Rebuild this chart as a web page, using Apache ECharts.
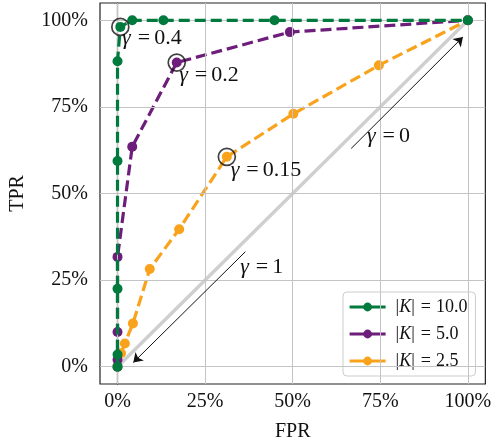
<!DOCTYPE html>
<html><head><meta charset="utf-8">
<script src="https://cdn.jsdelivr.net/npm/echarts@6/dist/echarts.min.js"></script>
<style>html,body{margin:0;padding:0;background:#fff}#c{width:494px;height:448px}</style>
</head><body><div id="c"></div>
<script>
// ---- data ----
const seriesNames = ['|K| = 10.0', '|K| = 5.0', '|K| = 2.5'];
const fprK10 = [0, 0, 0, 0, 0, 0.8, 4.2, 13.1, 44.8, 100];
const tprK10 = [0, 3.5, 22.5, 59.4, 88.2, 98.1, 100, 100, 100, 100];
const fprK5 = [0, 0, 0, 0, 4.2, 16.9, 49.2, 100];
const tprK5 = [0, 2, 10, 31.7, 63.5, 87.8, 96.6, 100];
const fprK25 = [0, 1, 2.1, 4.4, 9.2, 17.6, 31.2, 50.2, 74.6, 100];
const tprK25 = [0, 3.9, 6.7, 12.5, 28.2, 39.7, 60.6, 73, 87, 100];
const circledFPR = [0.8, 16.9, 31.2];
const circledTPR = [98.1, 87.8, 60.6];
const gammaLabels = ['0.4', '0.2', '0.15', '1', '0'];
const gammaLabelX = [1.3, 17.6, 32.3, 35, 71.2];
const gammaLabelY = [94.8, 84.1, 56.7, 28.8, 66.5];
const arrowFrom = [[36.5, 33.2], [66.7, 63]];
const arrowTo = [[4.5, 1.2], [98.6, 95.2]];
const diagonal = [[0, 0], [100, 100]];
const tickValues = [0, 25, 50, 75, 100];

const colors = ['#007a3d', '#6d1d7a', '#f9a31c'];
const FONT = 'Liberation Serif';
const TXT = '#111111';
const zip = (a, b) => a.map((v, i) => [v, b[i]]);

const gridLines = [];
tickValues.forEach(v => { gridLines.push({ xAxis: v }); gridLines.push({ yAxis: v }); });

function rocSeries(name, fpr, tpr, color, z) {
  return {
    name, type: 'line', data: zip(fpr, tpr), z,
    symbol: 'circle', symbolSize: 10, showSymbol: true,
    itemStyle: { color },
    lineStyle: { color, width: 3.2, type: [11, 5] },
    clip: false, animation: false
  };
}

const chart = echarts.init(document.getElementById('c'));
chart.setOption({
  animation: false,
  grid: { left: 96, right: 7, top: 3, bottom: 64, show: true, borderColor: '#222', borderWidth: 1.2, backgroundColor: 'transparent' },
  xAxis: {
    type: 'value', min: -5, max: 105,
    name: 'FPR', nameLocation: 'middle', nameGap: 38,
    nameTextStyle: { fontFamily: FONT, fontSize: 20, color: TXT },
    axisLine: { show: true, lineStyle: { color: '#222', width: 1.2 } },
    axisTick: { show: true, inside: false, length: 5, customValues: tickValues, lineStyle: { color: '#222' } },
    axisLabel: { customValues: tickValues, formatter: '{value}%', fontFamily: FONT, fontSize: 20, color: TXT, margin: 8 },
    splitLine: { show: false }
  },
  yAxis: {
    type: 'value', min: -5, max: 105,
    name: 'TPR', nameLocation: 'middle', nameGap: 72,
    nameTextStyle: { fontFamily: FONT, fontSize: 20, color: TXT },
    axisLine: { show: true, lineStyle: { color: '#222', width: 1.2 } },
    axisTick: { show: true, inside: false, length: 5, customValues: tickValues, lineStyle: { color: '#222' } },
    axisLabel: { customValues: tickValues, formatter: '{value}%', fontFamily: FONT, fontSize: 20, color: TXT, margin: 12 },
    splitLine: { show: false }
  },
  legend: {
    orient: 'vertical', left: 343, top: 292,
    data: seriesNames,
    itemWidth: 36, itemHeight: 11, itemGap: 9,
    padding: [6, 8, 6, 5],
    backgroundColor: 'rgba(255,255,255,0.85)',
    borderColor: '#cccccc', borderWidth: 1, borderRadius: 4,
    lineStyle: { type: 'solid', width: 3.2 },
    formatter: n => {
      const v = n.split('= ')[1];
      return '{a||}{k|K}{t||}{e|=}{t|' + v + '}';
    },
    textStyle: {
      fontFamily: FONT, fontSize: 18, color: TXT,
      rich: {
        a: { fontFamily: FONT, fontSize: 18, color: TXT, padding: [0, 0, 0, 5] },
        k: { fontFamily: FONT, fontSize: 18, fontStyle: 'italic', color: TXT },
        t: { fontFamily: FONT, fontSize: 18, color: TXT },
        e: { fontFamily: FONT, fontSize: 18, color: TXT, padding: [0, 5, 0, 6] }
      }
    }
  },
  series: [
    {
      type: 'line', data: diagonal, symbol: 'none', z: 1, silent: true,
      lineStyle: { color: '#cfcfcf', width: 3.4 },
      markLine: {
        silent: true, symbol: 'none', label: { show: false },
        lineStyle: { color: '#c4c4c4', width: 1, type: 'solid' },
        data: gridLines, animation: false
      }
    },
    rocSeries(seriesNames[2], fprK25, tprK25, colors[2], 3),
    rocSeries(seriesNames[1], fprK5, tprK5, colors[1], 4),
    rocSeries(seriesNames[0], fprK10, tprK10, colors[0], 5),
    {
      type: 'scatter', data: zip(circledFPR, circledTPR), z: 6, silent: true,
      symbol: 'circle', symbolSize: 17,
      itemStyle: { color: 'rgba(0,0,0,0)', borderColor: '#111', borderWidth: 1.7 }
    },
    {
      type: 'lines', coordinateSystem: 'cartesian2d', z: 6, silent: true,
      symbol: ['none', 'arrow'], symbolSize: 9,
      lineStyle: { color: '#111', width: 1, opacity: 1, curveness: 0 },
      data: arrowFrom.map((f, i) => ({ coords: [f, arrowTo[i]] }))
    },
    {
      type: 'scatter', z: 7, silent: true,
      data: gammaLabels.map((g, i) => ({ value: [gammaLabelX[i], gammaLabelY[i]], name: g })),
      symbol: 'circle', symbolSize: 0, itemStyle: { color: TXT, opacity: 1 },
      label: {
        show: true, position: [0, 0], align: 'left', verticalAlign: 'middle',
        formatter: p => '{g|γ}{e|=}{n|' + p.name + '}',
        fontFamily: FONT, fontSize: 22, color: TXT, opacity: 1,
        rich: {
          g: { fontFamily: FONT, fontSize: 22, fontStyle: 'italic', color: TXT },
          e: { fontFamily: FONT, fontSize: 22, color: TXT, padding: [0, 4, 0, 7] },
          n: { fontFamily: FONT, fontSize: 22, color: TXT }
        }
      }
    }
  ]
});
</script></body></html>
